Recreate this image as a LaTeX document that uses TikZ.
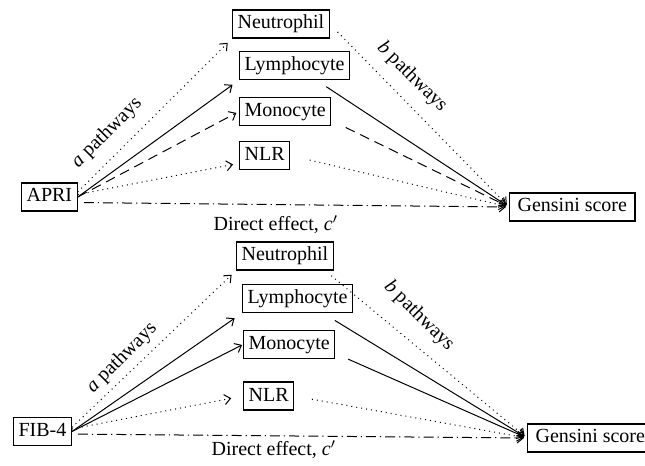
\documentclass[tikz,border=0pt]{standalone}
\usepackage{fontspec}
\setmainfont{Liberation Serif}
\usetikzlibrary{arrows.meta}

\begin{document}
\begin{tikzpicture}[x=0.5pt,y=-0.5pt,->,>={Straight Barb[length=3pt,width=5pt]},line width=0.5pt,
		varbox/.style={draw,rectangle,anchor=west,inner xsep=2.5pt,inner ysep=2.5pt,text height=7pt,text depth=2pt,line width=0.6pt},
		dotline/.style={dotted,shorten >=2pt},
		dashline/.style={dash pattern=on 5pt off 3pt},
		dashdotline/.style={dash pattern=on 5pt off 2pt on 0.6pt off 2pt},
		pathlabel/.style={font=\normalsize}]
		\useasboundingbox (0,0) rectangle (645,466);
		% APRI
		\node[varbox] (neu1) at (232,24) {Neutrophil};
		\node[varbox] (lym1) at (239,65.5) {Lymphocyte};
		\node[varbox] (mon1) at (239,111.5) {Monocyte};
		\node[varbox] (nlr1) at (239,155.5) {NLR};
		\node[varbox] (apri) at (21,197) {APRI};
		\node[varbox,inner xsep=4pt] (gen1) at (509,207) {Gensini score};
		\node[pathlabel,rotate=45] (alab1) at (107,133) {\textit{a} pathways};
		\node[pathlabel,rotate=-45] (blab1) at (412,77) {\textit{b} pathways};
		\node[pathlabel] (dir1) at (276,225) {Direct effect, \textit{c}$'$};
		\path[->]
		(apri.10) edge [dotline,shorten >=3pt] (neu1.south west)
		(apri.east) edge [shorten >=4pt] (lym1.south west)
		(apri.east) edge [dashline,shorten >=1.5pt] (mon1.west)
		(apri.5) edge [dotline,shorten >=3pt] (nlr1.197)
		(apri.-11) edge [dashdotline,shorten <=3pt,shorten >=1.5pt] (gen1.west)
		(neu1.east) edge [dotline,shorten <=5.5pt,shorten >=1.5pt] (gen1.west)
		(lym1.-34) edge [shorten <=6pt,shorten >=1.5pt] (gen1.west)
		(mon1.-11) edge [dashline,shorten <=8pt,shorten >=1.5pt] (gen1.west)
		(nlr1.east) edge [dotline,shorten <=10pt,shorten >=1.5pt] (gen1.west);
		% FIB-4
		\node[varbox] (neu2) at (236,256) {Neutrophil};
		\node[varbox] (lym2) at (242,298.5) {Lymphocyte};
		\node[varbox] (mon2) at (243,344.5) {Monocyte};
		\node[varbox] (nlr2) at (243,396) {NLR};
		\node[varbox] (fib) at (13,431.5) {FIB-4};
		\node[varbox,inner xsep=4pt] (gen2) at (527,438) {Gensini score};
		\node[pathlabel,rotate=45] (alab2) at (122,358) {\textit{a} pathways};
		\node[pathlabel,rotate=-45] (blab2) at (419,316) {\textit{b} pathways};
		\node[pathlabel] (dir2) at (274,450) {Direct effect, \textit{c}$'$};
		\path[->]
		(fib.8) edge [dotline,shorten >=3pt] (neu2.south west)
		(fib.east) edge [shorten >=4.5pt] (lym2.south west)
		(fib.east) edge [shorten >=0.5pt] (mon2.west)
		(fib.5) edge [dotline,shorten >=6pt] (nlr2.west)
		(fib.-5) edge [dashdotline,shorten <=3pt,shorten >=1.5pt] (gen2.west)
		(neu2.-20) edge [dotline,shorten <=4pt,shorten >=1.5pt] (gen2.west)
		(lym2.-30) edge [shorten <=7pt,shorten >=1.5pt] (gen2.west)
		(mon2.-11) edge [shorten <=7pt,shorten >=1.5pt] (gen2.west)
		(nlr2.east) edge [dotline,shorten <=9pt,shorten >=1.5pt] (gen2.west);
		\end{tikzpicture}
\end{document}
